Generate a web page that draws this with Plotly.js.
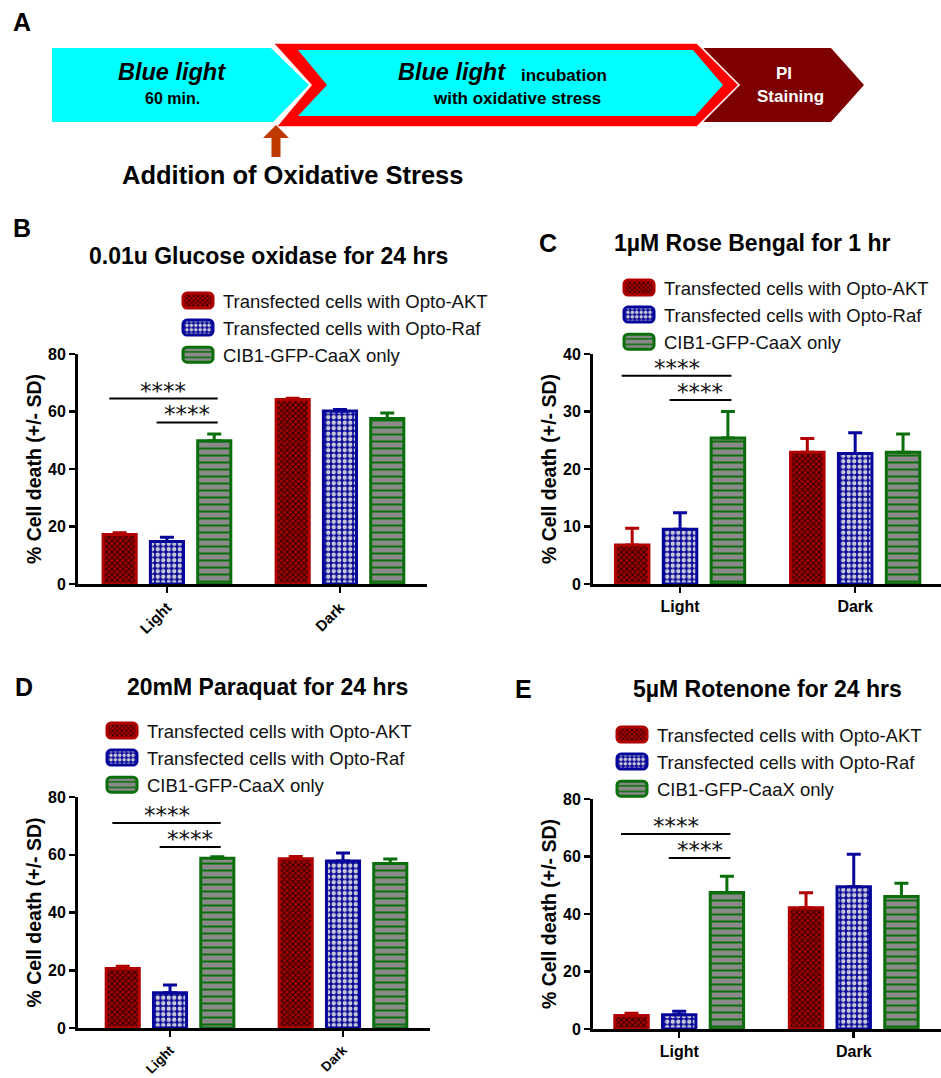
<!DOCTYPE html>
<html>
<head>
<meta charset="utf-8">
<script src="https://cdn.plot.ly/plotly-3.0.1.min.js"></script>
<style>
  html, body { margin: 0; padding: 0; background: #ffffff; }
  #chart { width: 941px; height: 1078px; }
</style>
</head>
<body>
<div id="chart"></div>
<script>
// ---------------- data ----------------
const categories = ['Light', 'Dark'];
const seriesNames = ['Transfected cells with Opto-AKT', 'Transfected cells with Opto-Raf', 'CIB1-GFP-CaaX only'];
const yAxisTitle = '% Cell death (+/- SD)';
const sigLabel = '****';

// Panel B
const titleB = '0.01u Glucose oxidase for 24 hrs';
const aktB = [17.2, 64.2], aktSdB = [0.6, 0.4];
const rafB = [14.8, 60.2], rafSdB = [1.5, 0.5];
const cibB = [49.8, 57.6], cibSdB = [2.4, 1.9];
const sigHeightsB = [64.5, 56.2];

// Panel C
const titleC = '1µM Rose Bengal for 1 hr';
const aktC = [6.8, 22.9], aktSdC = [2.9, 2.4];
const rafC = [9.5, 22.7], rafSdC = [2.9, 3.6];
const cibC = [25.4, 22.9], cibSdC = [4.6, 3.2];
const sigHeightsC = [36.2, 32.0];

// Panel D
const titleD = '20mM Paraquat for 24 hrs';
const aktD = [20.6, 58.6], aktSdD = [0.8, 0.8];
const rafD = [12.2, 57.8], rafSdD = [2.7, 2.8];
const cibD = [58.8, 57.0], cibSdD = [0.5, 1.5];
const sigHeightsD = [71.0, 62.7];

// Panel E
const titleE = '5µM Rotenone for 24 hrs';
const aktE = [4.7, 42.2], aktSdE = [0.8, 5.2];
const rafE = [5.0, 49.5], rafSdE = [1.2, 11.3];
const cibE = [47.5, 46.1], cibSdE = [5.6, 4.6];
const sigHeightsE = [67.8, 59.5];

// ---------------- styles ----------------
const W = 941, H = 1078;
const FONT = 'Arial, "Liberation Sans", Helvetica, sans-serif';
const px = x => x / W;
const py = y => 1 - y / H;
const pathPx = pts => 'M' + pts.map(p => px(p[0]).toFixed(5) + ',' + py(p[1]).toFixed(5)).join('L') + 'Z';

const seriesStyle = [
  { line: '#b00000', pattern: { shape: 'x', fgcolor: '#2a0000', bgcolor: '#a80000', size: 4, solidity: 0.45, fillmode: 'replace' } },
  { line: '#06069a', pattern: { shape: '.', fgcolor: '#c8c8d8', bgcolor: '#0a0a9a', size: 5.5, solidity: 0.5, fillmode: 'replace' } },
  { line: '#0a6e0a', pattern: { shape: '-', fgcolor: '#0a6e0a', bgcolor: '#8a8a8a', size: 7, solidity: 0.28, fillmode: 'replace' } }
];
const BARGAP = 0.18;

const panels = [
  { letter: 'B', title: titleB, series: [[aktB, aktSdB], [rafB, rafSdB], [cibB, cibSdB]], sig: sigHeightsB, ymax: 80, dtick: 20,
    id: '', xdom: [78, 427], ydom: [354, 584], xr: [-0.514, 1.503], angle: -45, xtickSize: 15, legend: 'legend', legPos: [183, 300],
    titlePos: [268, 256], letterPos: [22, 228] },
  { letter: 'C', title: titleC, series: [[aktC, aktSdC], [rafC, rafSdC], [cibC, cibSdC]], sig: sigHeightsC, ymax: 40, dtick: 10,
    id: '2', xdom: [593, 941], ydom: [354, 584], xr: [-0.497, 1.49], angle: 0, xtickSize: 16, legend: 'legend2', legPos: [624, 287],
    titlePos: [752, 243], letterPos: [548, 243] },
  { letter: 'D', title: titleD, series: [[aktD, aktSdD], [rafD, rafSdD], [cibD, cibSdD]], sig: sigHeightsD, ymax: 80, dtick: 20,
    id: '3', xdom: [78, 430], ydom: [797, 1028], xr: [-0.532, 1.503], angle: -45, xtickSize: 13.5, legend: 'legend3', legPos: [107, 730],
    titlePos: [267, 687], letterPos: [24, 687] },
  { letter: 'E', title: titleE, series: [[aktE, aktSdE], [rafE, rafSdE], [cibE, cibSdE]], sig: sigHeightsE, ymax: 80, dtick: 20,
    id: '4', xdom: [593, 941], ydom: [799, 1029], xr: [-0.494, 1.5], angle: 0, xtickSize: 16, legend: 'legend4', legPos: [617, 734],
    titlePos: [767, 689], letterPos: [523, 689] }
];

const data = [];
const layout = {
  width: W, height: H,
  margin: { l: 0, r: 0, t: 0, b: 0 },
  paper_bgcolor: '#ffffff',
  plot_bgcolor: 'rgba(0,0,0,0)',
  barmode: 'group',
  bargap: BARGAP,
  bargroupgap: 0.3,
  font: { family: FONT, color: '#000000' },
  showlegend: true,
  shapes: [],
  annotations: []
};

const slot = (1 - BARGAP) / 3;
const barCenter = (cat, k) => cat + (k - 1) * slot;

panels.forEach(p => {
  const xa = 'x' + p.id, ya = 'y' + p.id;
  p.series.forEach((s, k) => {
    data.push({
      type: 'bar',
      name: seriesNames[k],
      x: categories,
      y: s[0],
      xaxis: xa, yaxis: ya,
      legend: p.legend,
      marker: { line: { color: seriesStyle[k].line, width: 3 }, pattern: seriesStyle[k].pattern },
      error_y: { type: 'data', symmetric: false, array: s[1], arrayminus: s[1].map(() => 0),
                 color: seriesStyle[k].line, thickness: 3, width: 7 },
      hoverinfo: 'skip'
    });
  });

  layout['xaxis' + p.id] = {
    domain: [px(p.xdom[0]), px(p.xdom[1])],
    anchor: ya, type: 'category', range: p.xr, fixedrange: true,
    showline: true, linecolor: '#000', linewidth: 3,
    ticks: 'outside', ticklen: 6, tickwidth: 2.5, tickcolor: '#000',
    showgrid: false, zeroline: false, tickangle: p.angle,
    tickfont: { family: FONT, size: p.xtickSize, color: '#000', weight: 'bold' }
  };
  layout['yaxis' + p.id] = {
    domain: [py(p.ydom[1]), py(p.ydom[0])],
    anchor: xa, range: [0, p.ymax], dtick: p.dtick, fixedrange: true,
    showline: true, linecolor: '#000', linewidth: 3,
    ticks: 'outside', ticklen: 6, tickwidth: 2.5, tickcolor: '#000',
    showgrid: false, zeroline: false,
    tickfont: { family: FONT, size: 16, color: '#000', weight: 'bold' },
    title: { text: yAxisTitle, font: { family: FONT, size: 19.5, color: '#000', weight: 'bold' }, standoff: 2 }
  };
  layout[p.legend] = {
    x: px(p.legPos[0] - 10), y: py(p.legPos[1] - 18), xanchor: 'left', yanchor: 'top',
    bgcolor: 'rgba(0,0,0,0)', borderwidth: 0, itemwidth: 40,
    font: { family: FONT, size: 18.5, color: '#111' }
  };

  // significance brackets: Opto-AKT vs CIB1 and Opto-Raf vs CIB1 (Light group)
  [0, 1].forEach((k, i) => {
    const x0 = barCenter(0, k) - 0.06, x1 = barCenter(0, 2) + 0.02;
    layout.shapes.push({ type: 'line', xref: xa, yref: ya, x0: x0, x1: x1, y0: p.sig[i], y1: p.sig[i],
                         line: { color: '#000', width: 2 } });
    layout.annotations.push({ xref: xa, yref: ya, x: (x0 + x1) / 2, y: p.sig[i], text: sigLabel,
                              showarrow: false, yanchor: 'bottom', yshift: -7,
                              font: { family: '"DejaVu Sans", sans-serif', size: 23, color: '#111' } });
  });

  layout.annotations.push({ xref: 'paper', yref: 'paper', x: px(p.titlePos[0]), y: py(p.titlePos[1]),
                            text: '<b>' + p.title + '</b>', showarrow: false, xanchor: 'center', yanchor: 'middle',
                            font: { family: FONT, size: 23, color: '#000' } });
  layout.annotations.push({ xref: 'paper', yref: 'paper', x: px(p.letterPos[0]), y: py(p.letterPos[1]),
                            text: '<b>' + p.letter + '</b>', showarrow: false, xanchor: 'center', yanchor: 'middle',
                            font: { family: FONT, size: 25, color: '#000' } });
});

// ---------------- panel A: protocol diagram ----------------
layout.shapes.push(
  { type: 'path', xref: 'paper', yref: 'paper', layer: 'below',
    path: pathPx([[52, 48], [271, 48], [309, 85], [273, 122], [52, 122]]), fillcolor: '#00ffff', line: { width: 0 } },
  { type: 'path', xref: 'paper', yref: 'paper', layer: 'below',
    path: pathPx([[703, 48], [831, 48], [864, 85], [831, 122], [703, 122], [738, 85]]), fillcolor: '#7f0000', line: { width: 0 } },
  { type: 'path', xref: 'paper', yref: 'paper', layer: 'below',
    path: pathPx([[273, 43], [697, 43], [739, 85], [697, 127], [276, 127], [311, 85]]), fillcolor: '#ff0000', line: { color: '#ffffff', width: 1.5 } },
  { type: 'path', xref: 'paper', yref: 'paper', layer: 'below',
    path: pathPx([[298, 50], [693, 50], [723, 85], [695, 116], [298, 116], [327, 85]]), fillcolor: '#00ffff', line: { width: 0 } },
  { type: 'path', xref: 'paper', yref: 'paper', layer: 'below',
    path: pathPx([[276, 125], [289, 138], [280.5, 138], [280.5, 157], [271.5, 157], [271.5, 138], [263, 138]]), fillcolor: '#c03a00', line: { width: 0 } }
);

const aNote = (x, y, text, size, opts) => Object.assign({
  xref: 'paper', yref: 'paper', x: px(x), y: py(y), text: text, showarrow: false,
  xanchor: 'center', yanchor: 'middle', font: { family: FONT, size: size, color: '#000' }
}, opts || {});

layout.annotations.push(
  aNote(22, 22, '<b>A</b>', 25),
  aNote(172, 72, '<b><i>Blue light</i></b>', 23.5),
  aNote(172, 98, '<b>60 min.</b>', 16),
  aNote(452, 72, '<b><i>Blue light</i></b>', 23.5),
  aNote(519, 75, '<b>incubation</b>', 17, { xanchor: 'left' }),
  aNote(517, 98, '<b>with oxidative stress</b>', 17),
  aNote(784, 73, '<b>PI</b>', 17, { font: { family: FONT, size: 17, color: '#ffffff' } }),
  aNote(790, 97, '<b>Staining</b>', 17, { font: { family: FONT, size: 17, color: '#ffffff' } }),
  aNote(292, 175, '<b>Addition of Oxidative Stress</b>', 25.5)
);

// rounded-rectangle legend swatches like the original figure
const SWATCH = 'M-11,-7.5H11A4,4 0 0 1 15,-3.5V3.5A4,4 0 0 1 11,7.5H-11A4,4 0 0 1 -15,3.5V-3.5A4,4 0 0 1 -11,-7.5Z';
function fixSwatches() {
  document.querySelectorAll('#chart .legendpoints path').forEach(el => el.setAttribute('d', SWATCH));
}

Plotly.newPlot('chart', data, layout, { staticPlot: true, displayModeBar: false }).then(gd => {
  fixSwatches();
  gd.on('plotly_afterplot', fixSwatches);
  setTimeout(fixSwatches, 30);
  setTimeout(fixSwatches, 200);
});
</script>
</body>
</html>
